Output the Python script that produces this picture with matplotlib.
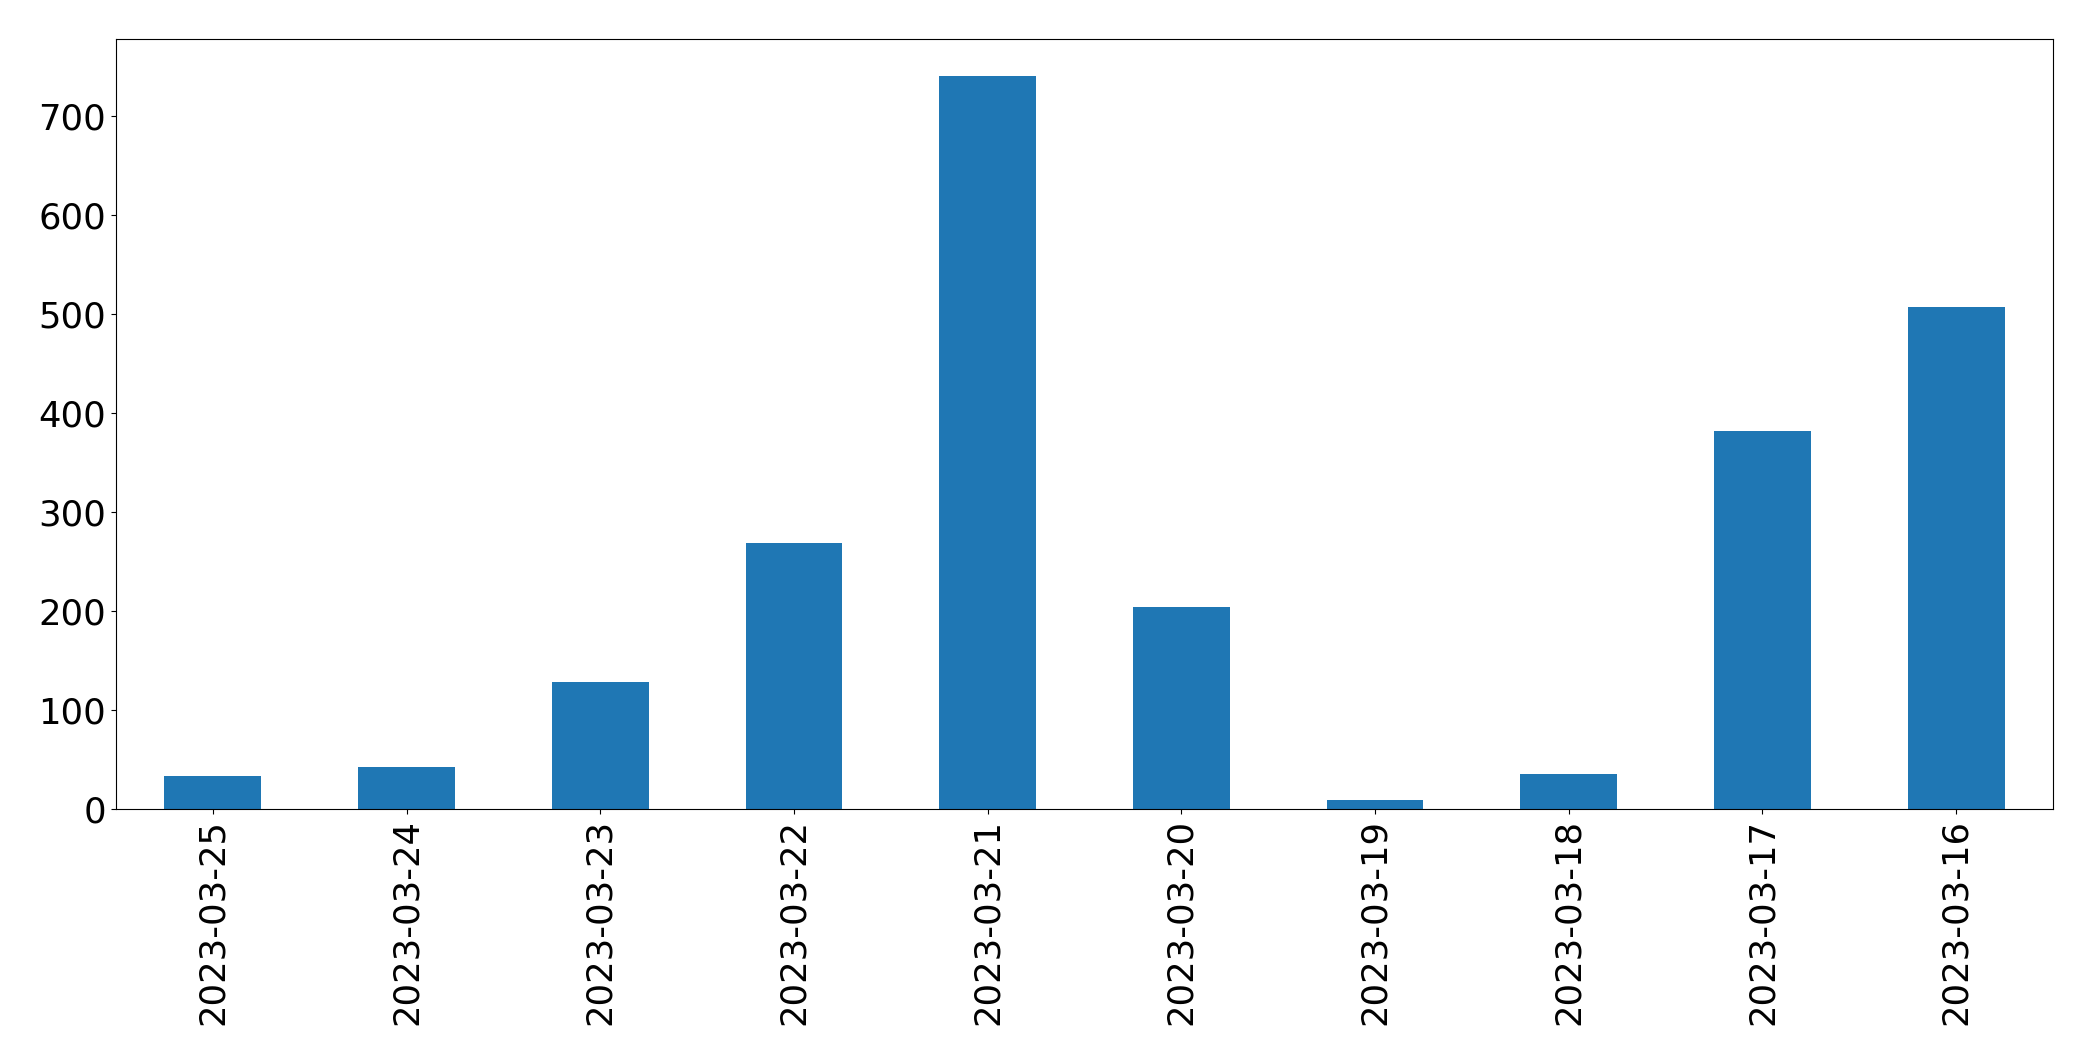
import matplotlib
matplotlib.use("Agg")
import matplotlib.pyplot as plt

dates = ["2023-03-25", "2023-03-24", "2023-03-23", "2023-03-22", "2023-03-21",
         "2023-03-20", "2023-03-19", "2023-03-18", "2023-03-17", "2023-03-16"]
counts = [33, 42, 128, 269, 741, 204, 9, 35, 382, 507]

fig = plt.figure(figsize=(20.93, 10.61), dpi=100)
ax = fig.add_axes([116 / 2093, 1 - 809 / 1061, (2053 - 116) / 2093, (809 - 39) / 1061])
x = range(len(dates))
ax.bar(x, counts, width=0.5, color="#1f77b4")
ax.set_xticks(list(x))
ax.set_xticklabels(dates, rotation=90)
ax.set_xlim(-0.5, len(dates) - 0.5)
ax.tick_params(axis="both", labelsize=25.5)
fig.savefig("out.png", dpi=100)
